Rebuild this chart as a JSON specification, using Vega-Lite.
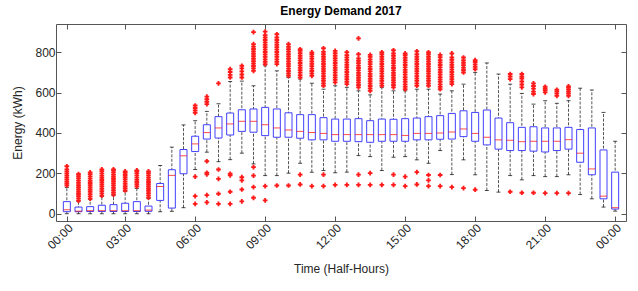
{
"$schema":"https://vega.github.io/schema/vega-lite/v6.json",
"autosize":{"type":"none"},
"width":570,"height":197,
"padding":{"left":56,"top":24,"right":12,"bottom":70},
"background":"white",
"title":{"text":"Energy Demand 2017","fontSize":12,"fontWeight":"bold","font":"Liberation Sans","color":"#000000","offset":6},
"config":{"view":{"stroke":"#555555","strokeWidth":1},"axis":{"labelFont":"Liberation Sans","titleFont":"Liberation Sans","labelFontSize":12,"titleFontSize":12,"labelColor":"#262626","titleColor":"#262626","titleFontWeight":"normal","domain":false,"grid":false,"tickColor":"#555555"}},
"datasets":{
"box":[
{"h":1,"lo":0,"q1":10,"med":20,"q3":60,"hi":130},
{"h":2,"lo":0,"q1":10,"med":13,"q3":33,"hi":60},
{"h":3,"lo":0,"q1":11,"med":15,"q3":35,"hi":70},
{"h":4,"lo":0,"q1":11,"med":15,"q3":42,"hi":85},
{"h":5,"lo":0,"q1":11,"med":15,"q3":45,"hi":90},
{"h":6,"lo":0,"q1":11,"med":15,"q3":52,"hi":110},
{"h":7,"lo":0,"q1":11,"med":15,"q3":60,"hi":125},
{"h":8,"lo":0,"q1":12,"med":18,"q3":38,"hi":75},
{"h":9,"lo":10,"q1":66,"med":135,"q3":150,"hi":239},
{"h":10,"lo":12,"q1":28,"med":190,"q3":218,"hi":330},
{"h":11,"lo":30,"q1":198,"med":287,"q3":318,"hi":440},
{"h":12,"lo":219,"q1":308,"med":346,"q3":384,"hi":461},
{"h":13,"lo":305,"q1":370,"med":402,"q3":441,"hi":507},
{"h":14,"lo":258,"q1":375,"med":425,"q3":481,"hi":545},
{"h":15,"lo":268,"q1":390,"med":445,"q3":499,"hi":655},
{"h":16,"lo":300,"q1":408,"med":458,"q3":515,"hi":657},
{"h":17,"lo":247,"q1":404,"med":458,"q3":519,"hi":634},
{"h":18,"lo":189,"q1":387,"med":441,"q3":527,"hi":733},
{"h":19,"lo":189,"q1":379,"med":425,"q3":519,"hi":708},
{"h":20,"lo":201,"q1":379,"med":415,"q3":500,"hi":675},
{"h":21,"lo":250,"q1":374,"med":408,"q3":491,"hi":667},
{"h":22,"lo":206,"q1":366,"med":402,"q3":491,"hi":647},
{"h":23,"lo":214,"q1":366,"med":398,"q3":476,"hi":617},
{"h":24,"lo":203,"q1":359,"med":392,"q3":469,"hi":634},
{"h":25,"lo":206,"q1":359,"med":392,"q3":469,"hi":626},
{"h":26,"lo":288,"q1":357,"med":392,"q3":471,"hi":609},
{"h":27,"lo":283,"q1":354,"med":392,"q3":461,"hi":589},
{"h":28,"lo":214,"q1":359,"med":392,"q3":469,"hi":625},
{"h":29,"lo":280,"q1":359,"med":392,"q3":468,"hi":609},
{"h":30,"lo":283,"q1":359,"med":388,"q3":471,"hi":609},
{"h":31,"lo":267,"q1":366,"med":398,"q3":474,"hi":617},
{"h":32,"lo":250,"q1":366,"med":398,"q3":481,"hi":617},
{"h":33,"lo":313,"q1":369,"med":400,"q3":486,"hi":593},
{"h":34,"lo":194,"q1":370,"med":405,"q3":497,"hi":609},
{"h":35,"lo":267,"q1":382,"med":420,"q3":510,"hi":642},
{"h":36,"lo":193,"q1":359,"med":398,"q3":502,"hi":700},
{"h":37,"lo":115,"q1":341,"med":379,"q3":514,"hi":747},
{"h":38,"lo":107,"q1":320,"med":366,"q3":474,"hi":692},
{"h":39,"lo":189,"q1":313,"med":364,"q3":451,"hi":642},
{"h":40,"lo":168,"q1":313,"med":357,"q3":428,"hi":596},
{"h":41,"lo":189,"q1":310,"med":359,"q3":431,"hi":543},
{"h":42,"lo":184,"q1":306,"med":359,"q3":425,"hi":560},
{"h":43,"lo":184,"q1":313,"med":359,"q3":425,"hi":547},
{"h":44,"lo":193,"q1":320,"med":367,"q3":428,"hi":560},
{"h":45,"lo":95,"q1":255,"med":300,"q3":417,"hi":622},
{"h":46,"lo":74,"q1":193,"med":222,"q3":425,"hi":613},
{"h":47,"lo":33,"q1":74,"med":87,"q3":316,"hi":502},
{"h":48,"lo":13,"q1":23,"med":30,"q3":206,"hi":359}
],
"out":[
{"h":1,"v":140},{"h":1,"v":150},{"h":1,"v":160},{"h":1,"v":170},{"h":1,"v":180},{"h":1,"v":190},{"h":1,"v":200},{"h":1,"v":210},{"h":1,"v":220},{"h":1,"v":235},
{"h":2,"v":65},{"h":2,"v":76},{"h":2,"v":87},{"h":2,"v":98},{"h":2,"v":109},{"h":2,"v":120},{"h":2,"v":131},{"h":2,"v":142},{"h":2,"v":153},{"h":2,"v":164},{"h":2,"v":175},{"h":2,"v":186},{"h":2,"v":197},
{"h":3,"v":75},{"h":3,"v":86},{"h":3,"v":97},{"h":3,"v":108},{"h":3,"v":119},{"h":3,"v":130},{"h":3,"v":141},{"h":3,"v":152},{"h":3,"v":163},{"h":3,"v":174},{"h":3,"v":185},{"h":3,"v":196},{"h":3,"v":205},
{"h":4,"v":90},{"h":4,"v":101},{"h":4,"v":112},{"h":4,"v":123},{"h":4,"v":134},{"h":4,"v":145},{"h":4,"v":156},{"h":4,"v":167},{"h":4,"v":178},{"h":4,"v":189},{"h":4,"v":200},{"h":4,"v":211},{"h":4,"v":220},
{"h":5,"v":95},{"h":5,"v":106},{"h":5,"v":117},{"h":5,"v":128},{"h":5,"v":139},{"h":5,"v":150},{"h":5,"v":161},{"h":5,"v":172},{"h":5,"v":183},{"h":5,"v":194},{"h":5,"v":205},{"h":5,"v":215},{"h":5,"v":220},
{"h":6,"v":115},{"h":6,"v":126},{"h":6,"v":137},{"h":6,"v":148},{"h":6,"v":159},{"h":6,"v":170},{"h":6,"v":181},{"h":6,"v":192},{"h":6,"v":203},{"h":6,"v":210},
{"h":7,"v":135},{"h":7,"v":146},{"h":7,"v":157},{"h":7,"v":168},{"h":7,"v":179},{"h":7,"v":190},{"h":7,"v":201},{"h":7,"v":212},{"h":7,"v":215},
{"h":8,"v":80},{"h":8,"v":91},{"h":8,"v":102},{"h":8,"v":113},{"h":8,"v":124},{"h":8,"v":135},{"h":8,"v":146},{"h":8,"v":157},{"h":8,"v":168},{"h":8,"v":179},{"h":8,"v":190},{"h":8,"v":201},{"h":8,"v":210},
{"h":12,"v":500},{"h":12,"v":512},{"h":12,"v":524},{"h":12,"v":536},{"h":12,"v":184},{"h":12,"v":87},{"h":12,"v":49},
{"h":13,"v":543},{"h":13,"v":555},{"h":13,"v":567},{"h":13,"v":580},{"h":13,"v":260},{"h":13,"v":203},{"h":13,"v":195},{"h":13,"v":92},{"h":13,"v":56},
{"h":14,"v":646},{"h":14,"v":219},{"h":14,"v":173},{"h":14,"v":99},{"h":14,"v":49},
{"h":15,"v":675},{"h":15,"v":688},{"h":15,"v":702},{"h":15,"v":716},{"h":15,"v":198},{"h":15,"v":190},{"h":15,"v":109},{"h":15,"v":49},
{"h":16,"v":675},{"h":16,"v":690},{"h":16,"v":705},{"h":16,"v":720},{"h":16,"v":733},{"h":16,"v":181},{"h":16,"v":165},{"h":16,"v":120},{"h":16,"v":61},
{"h":17,"v":708},{"h":17,"v":720},{"h":17,"v":732},{"h":17,"v":744},{"h":17,"v":756},{"h":17,"v":768},{"h":17,"v":780},{"h":17,"v":792},{"h":17,"v":804},{"h":17,"v":816},{"h":17,"v":828},{"h":17,"v":840},{"h":17,"v":900},{"h":17,"v":231},{"h":17,"v":189},{"h":17,"v":132},{"h":17,"v":79},
{"h":18,"v":741},{"h":18,"v":753},{"h":18,"v":765},{"h":18,"v":777},{"h":18,"v":789},{"h":18,"v":801},{"h":18,"v":813},{"h":18,"v":825},{"h":18,"v":837},{"h":18,"v":849},{"h":18,"v":861},{"h":18,"v":873},{"h":18,"v":885},{"h":18,"v":902},{"h":18,"v":137},{"h":18,"v":66},
{"h":19,"v":741},{"h":19,"v":753},{"h":19,"v":765},{"h":19,"v":777},{"h":19,"v":789},{"h":19,"v":801},{"h":19,"v":813},{"h":19,"v":825},{"h":19,"v":837},{"h":19,"v":849},{"h":19,"v":861},{"h":19,"v":873},{"h":19,"v":889},{"h":19,"v":140},
{"h":20,"v":683},{"h":20,"v":695},{"h":20,"v":707},{"h":20,"v":719},{"h":20,"v":731},{"h":20,"v":743},{"h":20,"v":755},{"h":20,"v":767},{"h":20,"v":779},{"h":20,"v":791},{"h":20,"v":803},{"h":20,"v":815},{"h":20,"v":827},{"h":20,"v":840},{"h":20,"v":140},
{"h":21,"v":675},{"h":21,"v":687},{"h":21,"v":699},{"h":21,"v":711},{"h":21,"v":723},{"h":21,"v":735},{"h":21,"v":747},{"h":21,"v":759},{"h":21,"v":771},{"h":21,"v":783},{"h":21,"v":795},{"h":21,"v":807},{"h":21,"v":815},{"h":21,"v":194},{"h":21,"v":145},
{"h":22,"v":683},{"h":22,"v":695},{"h":22,"v":707},{"h":22,"v":719},{"h":22,"v":731},{"h":22,"v":743},{"h":22,"v":755},{"h":22,"v":767},{"h":22,"v":779},{"h":22,"v":791},{"h":22,"v":799},{"h":22,"v":137},
{"h":23,"v":634},{"h":23,"v":646},{"h":23,"v":658},{"h":23,"v":670},{"h":23,"v":682},{"h":23,"v":694},{"h":23,"v":706},{"h":23,"v":718},{"h":23,"v":730},{"h":23,"v":742},{"h":23,"v":754},{"h":23,"v":766},{"h":23,"v":778},{"h":23,"v":790},{"h":23,"v":802},{"h":23,"v":820},{"h":23,"v":194},{"h":23,"v":137},
{"h":24,"v":651},{"h":24,"v":663},{"h":24,"v":675},{"h":24,"v":687},{"h":24,"v":699},{"h":24,"v":711},{"h":24,"v":723},{"h":24,"v":735},{"h":24,"v":747},{"h":24,"v":759},{"h":24,"v":771},{"h":24,"v":783},{"h":24,"v":795},{"h":24,"v":807},{"h":24,"v":143},
{"h":25,"v":642},{"h":25,"v":654},{"h":25,"v":666},{"h":25,"v":678},{"h":25,"v":690},{"h":25,"v":702},{"h":25,"v":714},{"h":25,"v":726},{"h":25,"v":738},{"h":25,"v":750},{"h":25,"v":762},{"h":25,"v":774},{"h":25,"v":786},{"h":25,"v":800},{"h":25,"v":143},
{"h":26,"v":626},{"h":26,"v":638},{"h":26,"v":650},{"h":26,"v":662},{"h":26,"v":674},{"h":26,"v":686},{"h":26,"v":698},{"h":26,"v":710},{"h":26,"v":722},{"h":26,"v":734},{"h":26,"v":746},{"h":26,"v":758},{"h":26,"v":770},{"h":26,"v":790},{"h":26,"v":869},{"h":26,"v":194},{"h":26,"v":143},
{"h":27,"v":609},{"h":27,"v":621},{"h":27,"v":633},{"h":27,"v":645},{"h":27,"v":657},{"h":27,"v":669},{"h":27,"v":681},{"h":27,"v":693},{"h":27,"v":705},{"h":27,"v":717},{"h":27,"v":729},{"h":27,"v":741},{"h":27,"v":753},{"h":27,"v":765},{"h":27,"v":777},{"h":27,"v":787},{"h":27,"v":201},{"h":27,"v":143},
{"h":28,"v":634},{"h":28,"v":646},{"h":28,"v":658},{"h":28,"v":670},{"h":28,"v":682},{"h":28,"v":694},{"h":28,"v":706},{"h":28,"v":718},{"h":28,"v":730},{"h":28,"v":742},{"h":28,"v":754},{"h":28,"v":766},{"h":28,"v":778},{"h":28,"v":790},{"h":28,"v":800},{"h":28,"v":143},
{"h":29,"v":626},{"h":29,"v":638},{"h":29,"v":650},{"h":29,"v":662},{"h":29,"v":674},{"h":29,"v":686},{"h":29,"v":698},{"h":29,"v":710},{"h":29,"v":722},{"h":29,"v":734},{"h":29,"v":746},{"h":29,"v":758},{"h":29,"v":770},{"h":29,"v":782},{"h":29,"v":794},{"h":29,"v":810},{"h":29,"v":194},{"h":29,"v":143},
{"h":30,"v":617},{"h":30,"v":629},{"h":30,"v":641},{"h":30,"v":653},{"h":30,"v":665},{"h":30,"v":677},{"h":30,"v":689},{"h":30,"v":701},{"h":30,"v":713},{"h":30,"v":725},{"h":30,"v":737},{"h":30,"v":749},{"h":30,"v":761},{"h":30,"v":773},{"h":30,"v":785},{"h":30,"v":794},{"h":30,"v":184},{"h":30,"v":137},
{"h":31,"v":634},{"h":31,"v":646},{"h":31,"v":658},{"h":31,"v":670},{"h":31,"v":682},{"h":31,"v":694},{"h":31,"v":706},{"h":31,"v":718},{"h":31,"v":730},{"h":31,"v":742},{"h":31,"v":754},{"h":31,"v":766},{"h":31,"v":778},{"h":31,"v":790},{"h":31,"v":805},{"h":31,"v":206},{"h":31,"v":145},
{"h":32,"v":634},{"h":32,"v":646},{"h":32,"v":658},{"h":32,"v":670},{"h":32,"v":682},{"h":32,"v":694},{"h":32,"v":706},{"h":32,"v":718},{"h":32,"v":730},{"h":32,"v":742},{"h":32,"v":754},{"h":32,"v":766},{"h":32,"v":778},{"h":32,"v":790},{"h":32,"v":800},{"h":32,"v":192},{"h":32,"v":165},{"h":32,"v":137},
{"h":33,"v":617},{"h":33,"v":629},{"h":33,"v":641},{"h":33,"v":653},{"h":33,"v":665},{"h":33,"v":677},{"h":33,"v":689},{"h":33,"v":701},{"h":33,"v":713},{"h":33,"v":725},{"h":33,"v":737},{"h":33,"v":749},{"h":33,"v":761},{"h":33,"v":775},{"h":33,"v":787},{"h":33,"v":192},{"h":33,"v":137},
{"h":34,"v":642},{"h":34,"v":654},{"h":34,"v":666},{"h":34,"v":678},{"h":34,"v":690},{"h":34,"v":702},{"h":34,"v":714},{"h":34,"v":726},{"h":34,"v":738},{"h":34,"v":750},{"h":34,"v":762},{"h":34,"v":774},{"h":34,"v":794},{"h":34,"v":132},
{"h":35,"v":700},{"h":35,"v":712},{"h":35,"v":724},{"h":35,"v":736},{"h":35,"v":748},{"h":35,"v":760},{"h":35,"v":774},{"h":35,"v":127},
{"h":36,"v":716},{"h":36,"v":728},{"h":36,"v":740},{"h":36,"v":752},{"h":36,"v":761},{"h":36,"v":119},
{"h":39,"v":667},{"h":39,"v":680},{"h":39,"v":692},{"h":39,"v":109},
{"h":40,"v":626},{"h":40,"v":640},{"h":40,"v":655},{"h":40,"v":670},{"h":40,"v":680},{"h":40,"v":692},{"h":40,"v":104},
{"h":41,"v":593},{"h":41,"v":605},{"h":41,"v":620},{"h":41,"v":633},{"h":41,"v":646},{"h":41,"v":104},
{"h":42,"v":601},{"h":42,"v":612},{"h":42,"v":620},{"h":42,"v":629},{"h":42,"v":102},
{"h":43,"v":584},{"h":43,"v":595},{"h":43,"v":605},{"h":43,"v":614},{"h":43,"v":102},
{"h":44,"v":584},{"h":44,"v":595},{"h":44,"v":605},{"h":44,"v":615},{"h":44,"v":625},{"h":44,"v":631},{"h":44,"v":102}
]
},
"resolve":{"axis":{"x":"independent","y":"independent"}},
"layer":[
{"data":{"name":"box"},
 "mark":{"type":"rule","color":"#555555","strokeDash":[3,1.5],"strokeWidth":1},
 "encoding":{
  "x":{"field":"h","type":"quantitative","scale":{"domain":[0.5,48.5],"nice":false,"zero":false},
   "axis":{"orient":"bottom","values":[1,6,12,18,24,30,36,42,48],"title":"Time (Half-Hours)","titlePadding":12,"labelAngle":-45,"labelAlign":"right","labelBaseline":"top","tickSize":-5,"labelPadding":6,
   "labelExpr":"datum.value==1?'00:00':datum.value==6?'03:00':datum.value==12?'06:00':datum.value==18?'09:00':datum.value==24?'12:00':datum.value==30?'15:00':datum.value==36?'18:00':datum.value==42?'21:00':'00:00'"}},
  "y":{"field":"lo","type":"quantitative","scale":{"domain":[-36,940],"nice":false,"zero":false},
   "axis":{"orient":"left","values":[0,200,400,600,800],"title":"Energy (kWh)","tickSize":-5,"labelPadding":6,"titlePadding":10}},
  "y2":{"field":"hi"}}},
{"data":{"name":"box"},
 "mark":{"type":"tick","orient":"horizontal","color":"#000000","size":4,"thickness":1},
 "encoding":{"x":{"field":"h","type":"quantitative","axis":null},"y":{"field":"hi","type":"quantitative","axis":null}}},
{"data":{"name":"box"},
 "mark":{"type":"tick","orient":"horizontal","color":"#000000","size":4,"thickness":1},
 "encoding":{"x":{"field":"h","type":"quantitative","axis":null},"y":{"field":"lo","type":"quantitative","axis":null}}},
{"data":{"name":"box"},
 "mark":{"type":"bar","size":7,"fill":"white","stroke":"#4040ff","strokeWidth":1},
 "encoding":{"x":{"field":"h","type":"quantitative","axis":null},"y":{"field":"q1","type":"quantitative","axis":null},"y2":{"field":"q3"}}},
{"data":{"name":"box"},
 "mark":{"type":"tick","orient":"horizontal","color":"#ff0000","size":7,"thickness":1},
 "encoding":{"x":{"field":"h","type":"quantitative","axis":null},"y":{"field":"med","type":"quantitative","axis":null}}},
{"data":{"name":"out"},
 "mark":{"type":"point","shape":"cross","filled":true,"color":"#ff1a1a","size":22,"opacity":1},
 "encoding":{
  "x":{"field":"h","type":"quantitative","axis":{"orient":"top","values":[1,6,12,18,24,30,36,42,48],"labels":false,"title":null,"tickSize":-5}},
  "y":{"field":"v","type":"quantitative","axis":{"orient":"right","values":[0,200,400,600,800],"labels":false,"title":null,"tickSize":-5}}}}
]
}
